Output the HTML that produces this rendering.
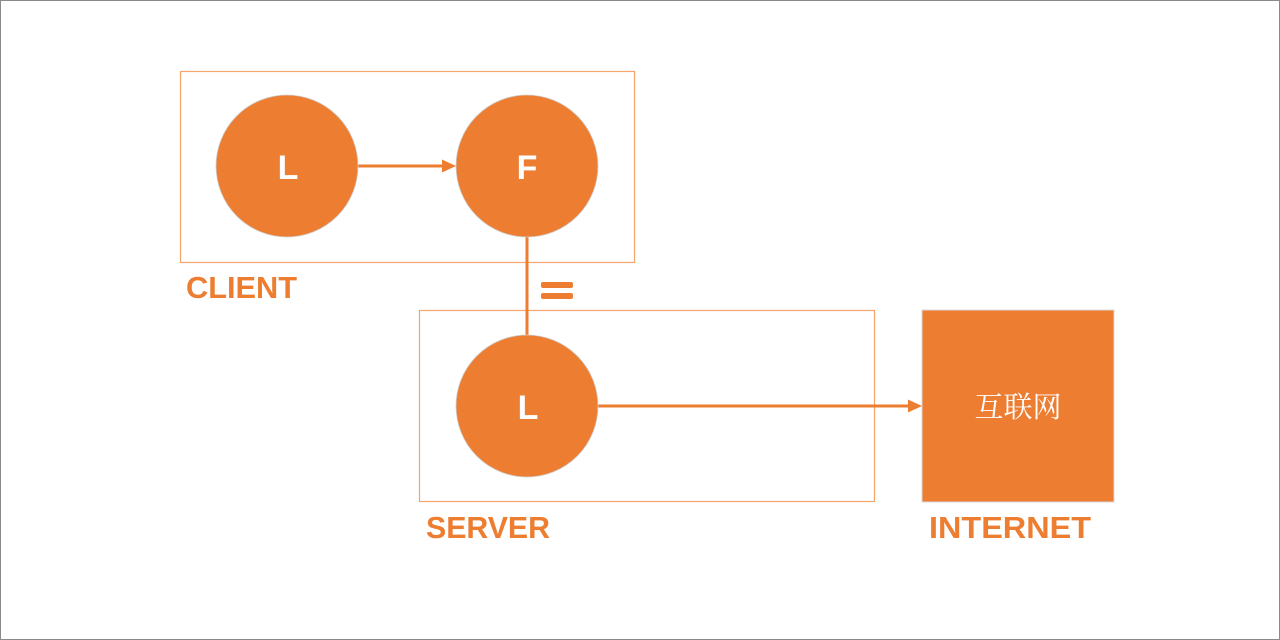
<!DOCTYPE html>
<html><head><meta charset="utf-8"><style>
html,body{margin:0;padding:0;background:#fff}
svg{display:block}
</style></head><body>
<svg width="1280" height="640" xmlns="http://www.w3.org/2000/svg">
<rect x="0.5" y="0.5" width="1279" height="639" fill="#fff" stroke="#8a8a8a"/>
<rect x="180.5" y="71.5" width="454" height="191" fill="none" stroke="#f4a46a" stroke-width="1.2"/>
<rect x="419.5" y="310.5" width="455" height="191" fill="none" stroke="#f4a46a" stroke-width="1.2"/>
<rect x="922" y="310" width="192" height="192" fill="#ed7d31" stroke="#d9d9d9" stroke-width="1"/>
<line x1="527" y1="236" x2="527" y2="338" stroke="#ed7d31" stroke-width="3"/>
<line x1="357" y1="166" x2="444" y2="166" stroke="#ed7d31" stroke-width="3"/>
<polygon points="456,166 442,159.5 442,172.5" fill="#ed7d31"/>
<line x1="597" y1="406" x2="910" y2="406" stroke="#ed7d31" stroke-width="3"/>
<polygon points="922,406 908,399.5 908,412.5" fill="#ed7d31"/>
<circle cx="287" cy="166" r="71" fill="#ed7d31" stroke="#d0d0d0" stroke-width="0.8"/>
<circle cx="527" cy="166" r="71" fill="#ed7d31" stroke="#d0d0d0" stroke-width="0.8"/>
<circle cx="527" cy="406" r="71" fill="#ed7d31" stroke="#d0d0d0" stroke-width="0.8"/>
<rect x="541" y="282" width="32" height="6" rx="2" fill="#ed7d31"/>
<rect x="541" y="293" width="32" height="6" rx="2" fill="#ed7d31"/>
<g font-family="Liberation Sans, sans-serif" font-weight="bold" fill="#fff" font-size="34" text-anchor="middle">
<text x="288" y="179">L</text>
<text x="527" y="179">F</text>
<text x="528" y="419">L</text>
</g>
<text x="1018" y="417" font-family="Noto Serif CJK SC, serif" font-size="29" fill="#fff" text-anchor="middle">互联网</text>
<g font-family="Liberation Sans, sans-serif" font-weight="bold" fill="#ed7d31" font-size="31">
<text x="186" y="298" textLength="111" lengthAdjust="spacingAndGlyphs">CLIENT</text>
<text x="426" y="538" textLength="124" lengthAdjust="spacingAndGlyphs">SERVER</text>
<text x="929" y="538" textLength="162" lengthAdjust="spacingAndGlyphs">INTERNET</text>
</g>
</svg>
</body></html>
